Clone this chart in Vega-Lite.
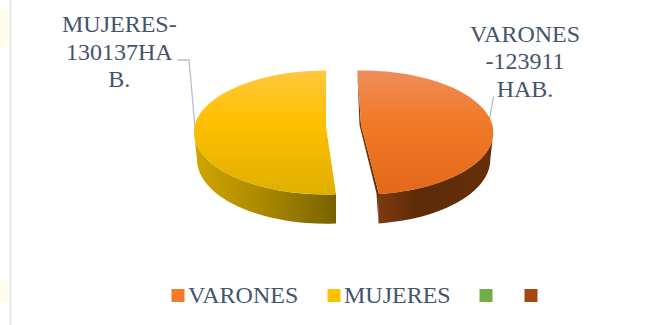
{
"$schema":"https://vega.github.io/schema/vega-lite/v6.json",
"width":671,"height":325,
"autosize":{"type":"fit","contains":"padding"},
"padding":0,
"background":"#ffffff",
"config":{"view":{"stroke":null}},
"data":{"values":[
{"sexo":"VARONES","habitantes":123911,"etiqueta":"VARONES\n-123911\nHAB."},
{"sexo":"MUJERES","habitantes":130137,"etiqueta":"MUJERES-\n130137HA\nB."},
{"sexo":" ","habitantes":0,"etiqueta":""},
{"sexo":"  ","habitantes":0,"etiqueta":""}
]},
"layer":[
{"transform":[{"filter":"datum.sexo==='VARONES'"}],
 "mark":{"type":"point","filled":true,"opacity":1,"size":4,"strokeWidth":0,"color":"#fffce9","shape":"M-335.5,-152 L-326,-152 L-326,-115 L-335.5,-115 Z M-335.5,118 L-326,118 L-326,140 L-335.5,140 Z"},"encoding":{}},
{"transform":[{"filter":"datum.sexo==='VARONES'"}],
 "mark":{"type":"point","filled":false,"opacity":1,"size":4,"strokeWidth":2,"color":"#e4e7f2","shape":"M-325,-162.5 L-325,162.5"},"encoding":{}},
{"transform":[{"filter":"datum.sexo==='VARONES'||datum.sexo==='MUJERES'"}],
 "mark":{"type":"point","filled":false,"opacity":1,"size":4,"strokeWidth":1.3,"color":"#b4bfcd"},
 "encoding":{"shape":{"field":"sexo","type":"nominal","legend":null,"scale":{"domain":["VARONES","MUJERES"],"range":["M158,-65.8 L153.8,-42","M-158.2,-102.5 L-146.5,-102.5 L-140.5,-35"]}}}},
{"transform":[{"filter":"datum.sexo==='VARONES'"}],
 "mark":{"type":"point","filled":true,"opacity":1,"size":4,"strokeWidth":0,"color":"#6b3208","shape":"M21.8,-92 L25.5,-37.5 L43.5,31.44 L43,60.9 L41,31 L24,-37.5 Z"},"encoding":{}},
{"transform":[{"filter":"datum.sexo==='VARONES'"}],
 "mark":{"type":"point","filled":true,"opacity":1,"size":4,"strokeWidth":0,"shape":"M157.8,-30 A132,62 0 0 1 43.5,31.44 L43,60.9 A129,64.5 0 0 0 154.8,-3 Z",
  "color":{"x1":0,"y1":0,"x2":1,"y2":0,"gradient":"linear","stops":[{"offset":0,"color":"#7e3a10"},{"offset":0.35,"color":"#5c2b08"},{"offset":1,"color":"#653009"}]}},"encoding":{}},
{"transform":[{"filter":"datum.sexo==='MUJERES'"}],
 "mark":{"type":"point","filled":true,"opacity":1,"size":4,"strokeWidth":0,"shape":"M-141.5,-30 A132,62 0 0 0 0.5,31.82 L0.5,61.1 A129,64.5 0 0 1 -138.5,-3 Z",
  "color":{"x1":0,"y1":0,"x2":1,"y2":0,"gradient":"linear","stops":[{"offset":0,"color":"#d0a600"},{"offset":0.5,"color":"#a98800"},{"offset":1,"color":"#776200"}]}},"encoding":{}},
{"mark":{"type":"point","filled":true,"opacity":1,"size":0,"strokeWidth":0,"shape":"square"},
 "encoding":{
  "color":{"field":"sexo","type":"nominal","scale":{"domain":["VARONES","MUJERES"," ","  "],"range":["#f27a28","#ffc000","#70ad47","#a5480f"]},
  "legend":{"title":null,"orient":"none","legendX":166,"legendY":279.5,"direction":"horizontal","columns":4,"padding":0,"symbolType":"square","symbolSize":169,"symbolStrokeWidth":0,"labelFont":"Liberation Serif","labelFontSize":24,"labelColor":"#44546a","labelOffset":-2,"columnPadding":23,"labelLimit":200}}
 }},
{"transform":[{"filter":"datum.sexo==='VARONES'"}],
 "mark":{"type":"point","filled":true,"opacity":1,"size":4,"strokeWidth":0,"shape":"M21.8,-91.97 A132,62 0 0 1 43.5,31.44 L25.5,-37.5 Z",
  "color":{"x1":0,"y1":0,"x2":0,"y2":1,"gradient":"linear","stops":[{"offset":0,"color":"#ee8d5a"},{"offset":0.4,"color":"#f27a28"},{"offset":1,"color":"#e2691a"}]}},"encoding":{}},
{"transform":[{"filter":"datum.sexo==='MUJERES'"}],
 "mark":{"type":"point","filled":true,"opacity":1,"size":4,"strokeWidth":0,"shape":"M-9.5,-92 A132,62 0 1 0 0.5,31.82 L-9.5,-36 Z",
  "color":{"x1":0,"y1":0,"x2":0,"y2":1,"gradient":"linear","stops":[{"offset":0,"color":"#ffc83f"},{"offset":0.4,"color":"#ffc000"},{"offset":1,"color":"#dfb000"}]}},"encoding":{}},
{"transform":[{"filter":"datum.sexo==='VARONES'"}],
 "mark":{"type":"text","font":"Liberation Serif","fontSize":24,"color":"#44546a","align":"center","baseline":"alphabetic","lineBreak":"\n","lineHeight":27.5,"dx":189.5,"dy":-120.8},
 "encoding":{"text":{"field":"etiqueta","type":"nominal"}}},
{"transform":[{"filter":"datum.sexo==='MUJERES'"}],
 "mark":{"type":"text","font":"Liberation Serif","fontSize":24,"color":"#44546a","align":"center","baseline":"alphabetic","lineBreak":"\n","lineHeight":27.5,"dx":-216.2,"dy":-130.2},
 "encoding":{"text":{"field":"etiqueta","type":"nominal"}}}
],
"resolve":{"scale":{"color":"independent","shape":"independent"}}
}
